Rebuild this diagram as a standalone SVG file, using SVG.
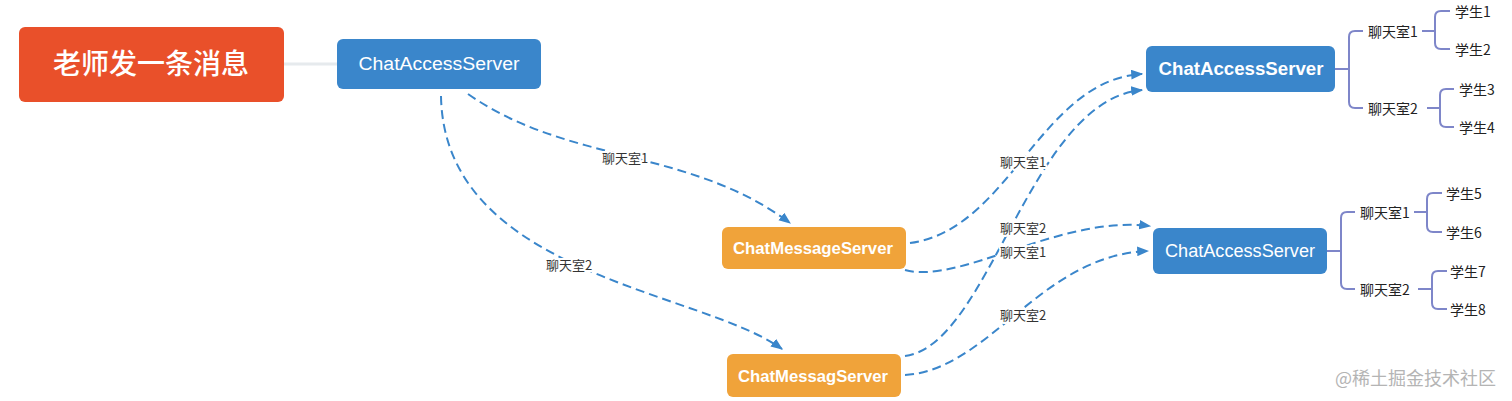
<svg xmlns="http://www.w3.org/2000/svg" width="1512" height="401" viewBox="0 0 1512 401">
<defs>
<marker id="arr" viewBox="0 0 10 8" refX="9" refY="4" markerWidth="12" markerHeight="10" markerUnits="userSpaceOnUse" orient="auto">
<path d="M0,0 L10,4 L0,8 Z" fill="#3A86CB"/>
</marker>
<style>
.node-text{font-family:"Liberation Sans","Noto Sans CJK SC",sans-serif;fill:#fff;text-anchor:middle;dominant-baseline:central}
.edge{fill:none;stroke:#3A86CB;stroke-width:2;stroke-dasharray:9 5;marker-end:url(#arr)}
.elabel{font-family:"Noto Sans CJK SC","Liberation Sans",sans-serif;font-size:13px;fill:#333;text-anchor:middle;dominant-baseline:central;stroke:#fff;stroke-width:4;paint-order:stroke;stroke-linejoin:round}
.tree{fill:none;stroke:#7E86C9;stroke-width:2}
.tlabel{font-family:"Noto Sans CJK SC","Liberation Sans",sans-serif;font-size:14px;fill:#222;dominant-baseline:central}
.blue{fill:#3A86CB}
.orange{fill:#F0A33A}
</style>
</defs>
<rect width="1512" height="401" fill="#fff"/>

<g id="connectors">
<line x1="283" y1="64" x2="337" y2="64" stroke="#E6EAED" stroke-width="3"/>
<path class="edge" d="M468,94 C568,164 690,148 790,223"/>
<path class="edge" d="M441,96 C444,275 700,290 782,349"/>
<path class="edge" d="M910,243 C1010,230 1040,80 1142,74"/>
<path class="edge" d="M905,270 C960,285 1060,215 1150,226"/>
<path class="edge" d="M905,356 C990,345 1030,100 1142,90"/>
<path class="edge" d="M905,375 C990,370 1040,255 1148,251"/>
<text class="elabel" x="625" y="157">聊天室1</text>
<text class="elabel" x="569" y="264">聊天室2</text>
<text class="elabel" x="1023" y="161">聊天室1</text>
<text class="elabel" x="1023" y="227">聊天室2</text>
<text class="elabel" x="1023" y="251">聊天室1</text>
<text class="elabel" x="1023" y="314">聊天室2</text>
</g>

<g id="teacher">
<rect x="19" y="27" width="265" height="75" rx="6" fill="#E9502A"/>
<text class="node-text" x="151" y="64" font-size="28" font-weight="500" font-family="Noto Sans CJK SC, sans-serif">老师发一条消息</text>
</g>

<g id="access1">
<rect class="blue" x="337" y="39" width="204" height="50" rx="6"/>
<text class="node-text" x="439" y="64" font-size="18" textLength="161" lengthAdjust="spacingAndGlyphs">ChatAccessServer</text>
</g>

<g id="msg1">
<rect class="orange" x="722" y="227" width="184" height="42" rx="6"/>
<text class="node-text" x="813" y="248" font-size="17" font-weight="bold" textLength="160" lengthAdjust="spacingAndGlyphs">ChatMessageServer</text>
</g>

<g id="msg2">
<rect class="orange" x="727" y="354" width="174" height="43" rx="6"/>
<text class="node-text" x="813" y="376" font-size="17" font-weight="bold" textLength="150" lengthAdjust="spacingAndGlyphs">ChatMessagServer</text>
</g>

<g id="access2">
<rect class="blue" x="1146" y="46" width="189" height="46" rx="6"/>
<text class="node-text" x="1241" y="69" font-size="18" font-weight="bold" textLength="165" lengthAdjust="spacingAndGlyphs">ChatAccessServer</text>
<path class="tree" d="M1335,69 H1349 M1363,31 H1355 Q1349,31 1349,37 V102 Q1349,108 1355,108 H1363"/>
<path class="tree" d="M1422,31 H1435 M1450,11 H1441 Q1435,11 1435,17 V43 Q1435,49 1441,49 H1450"/>
<path class="tree" d="M1427,108 H1440 M1454,89 H1446 Q1440,89 1440,95 V121 Q1440,127 1446,127 H1454"/>
<text class="tlabel" x="1368" y="31">聊天室1</text>
<text class="tlabel" x="1368" y="108">聊天室2</text>
<text class="tlabel" x="1455" y="11">学生1</text>
<text class="tlabel" x="1455" y="49">学生2</text>
<text class="tlabel" x="1459" y="89">学生3</text>
<text class="tlabel" x="1459" y="127">学生4</text>
</g>

<g id="access3">
<rect class="blue" x="1153" y="228" width="174" height="46" rx="6"/>
<text class="node-text" x="1240" y="251" font-size="18" textLength="150" lengthAdjust="spacingAndGlyphs">ChatAccessServer</text>
<path class="tree" d="M1327,251 H1341 M1355,212 H1347 Q1341,212 1341,218 V283 Q1341,289 1347,289 H1355"/>
<path class="tree" d="M1414,212 H1427 M1442,193 H1433 Q1427,193 1427,199 V226 Q1427,232 1433,232 H1442"/>
<path class="tree" d="M1418,289 H1432 M1447,271 H1438 Q1432,271 1432,277 V303 Q1432,309 1438,309 H1447"/>
<text class="tlabel" x="1360" y="212">聊天室1</text>
<text class="tlabel" x="1360" y="289">聊天室2</text>
<text class="tlabel" x="1446" y="193">学生5</text>
<text class="tlabel" x="1446" y="232">学生6</text>
<text class="tlabel" x="1450" y="271">学生7</text>
<text class="tlabel" x="1450" y="309">学生8</text>
</g>

<text x="1335" y="377" font-family="Noto Sans CJK SC, sans-serif" font-size="18" fill="#B4B4B4" dominant-baseline="central">@稀土掘金技术社区</text>
</svg>
